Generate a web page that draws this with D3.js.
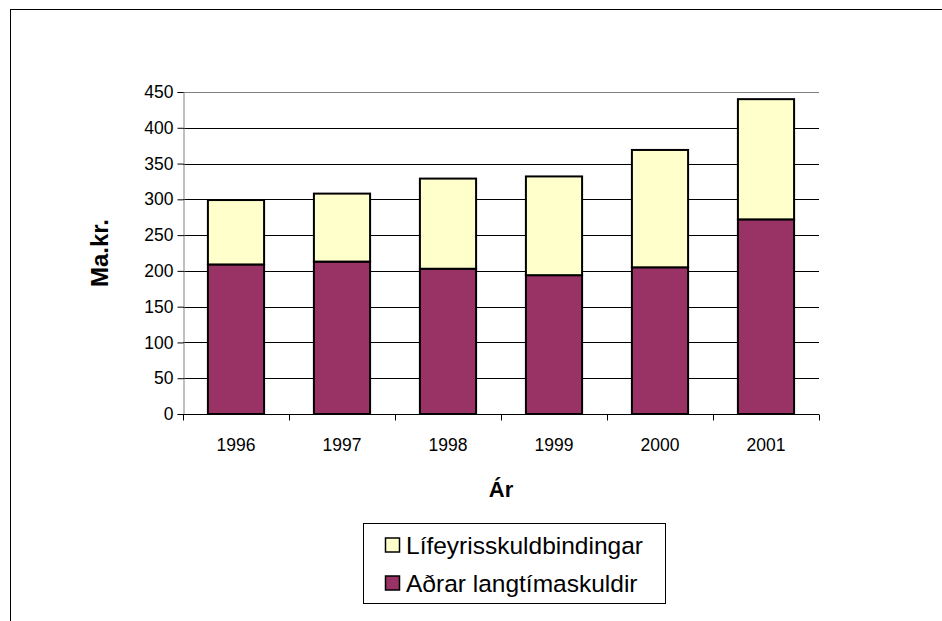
<!DOCTYPE html>
<html>
<head>
<meta charset="utf-8">
<script src="https://cdn.jsdelivr.net/npm/d3@7"></script>
<style>
  body { margin: 0; background: #fff; }
  svg { display: block; font-family: "Liberation Sans", Arial, sans-serif; }
</style>
</head>
<body>
<div id="chart"></div>
<script>
// Data (Ma.kr.)
const years = ["1996", "1997", "1998", "1999", "2000", "2001"];
const adrar = [209, 213, 203, 194, 205, 272];       // Aðrar langtímaskuldir
const lifeyris = [90, 95, 126, 138, 164, 168];      // Lífeyrisskuldbindingar
const yTicks = [0, 50, 100, 150, 200, 250, 300, 350, 400, 450];
const seriesNames = ["Aðrar langtímaskuldir", "Lífeyrisskuldbindingar"];
const seriesColors = ["#993366", "#FFFFCC"];

const width = 942, height = 621;
const margin = {top: 92, right: 123, bottom: 207, left: 183};

const svg = d3.select("#chart").append("svg")
    .attr("width", width)
    .attr("height", height);

// outer chart frame (runs off the right and bottom edges)
svg.append("rect")
    .attr("x", 10.5).attr("y", 9.5)
    .attr("width", 960).attr("height", 640)
    .attr("fill", "none").attr("stroke", "#000").attr("stroke-width", 1);

const x = d3.scaleBand()
    .domain(years)
    .range([margin.left, width - margin.right])
    .paddingInner(0.47)
    .paddingOuter(0.235);

const xAxisScale = d3.scaleBand().domain(years).range([margin.left, width - margin.right]);

const y = d3.scaleLinear()
    .domain([0, 450])
    .range([height - margin.bottom, margin.top]);

// gridlines
svg.append("g")
    .selectAll("line")
    .data(yTicks.slice(1))
    .join("line")
    .attr("x1", margin.left).attr("x2", width - margin.right)
    .attr("y1", d => Math.round(y(d)) + 0.5).attr("y2", d => Math.round(y(d)) + 0.5)
    .attr("stroke", d => d === 450 ? "#808080" : "#000")
    .attr("stroke-width", 1);

// stacked bars
const rows = years.map((yr, i) => ({year: yr, adrar: adrar[i], lifeyris: lifeyris[i]}));
const stack = d3.stack().keys(["adrar", "lifeyris"]);
const layers = stack(rows);

svg.append("g")
    .selectAll("g")
    .data(layers)
    .join("g")
    .attr("fill", (d, i) => seriesColors[i])
    .selectAll("rect")
    .data(d => d)
    .join("rect")
    .attr("x", d => x(d.data.year))
    .attr("y", d => y(d[1]))
    .attr("width", x.bandwidth())
    .attr("height", d => y(d[0]) - y(d[1]))
    .attr("stroke", "#000")
    .attr("stroke-width", 2);

// y axis
const yAxis = svg.append("g")
    .attr("transform", `translate(${margin.left + 0.5},0)`)
    .call(d3.axisLeft(y).tickValues(yTicks).tickSize(6).tickPadding(4));
yAxis.select(".domain").attr("stroke", "#808080");
yAxis.selectAll(".tick line").attr("stroke", "#000");
yAxis.selectAll("text").attr("font-size", 17.5).attr("fill", "#000")
    .attr("font-family", "Liberation Sans, Arial, sans-serif");

// x axis, ticks between categories
const xAxis = svg.append("g")
    .attr("transform", `translate(0,${Math.round(y(0)) + 0.5})`);
xAxis.append("line")
    .attr("x1", margin.left).attr("x2", width - margin.right)
    .attr("stroke", "#000");
xAxis.selectAll(".sep")
    .data(years.concat(["end"]))
    .join("line")
    .attr("x1", (d, i) => margin.left + i * xAxisScale.step() + 0.5)
    .attr("x2", (d, i) => margin.left + i * xAxisScale.step() + 0.5)
    .attr("y1", 0).attr("y2", 6)
    .attr("stroke", "#000");
xAxis.selectAll("text")
    .data(years)
    .join("text")
    .attr("x", d => xAxisScale(d) + xAxisScale.bandwidth() / 2)
    .attr("y", 36)
    .attr("text-anchor", "middle")
    .attr("font-size", 17.5)
    .text(d => d);

// axis titles
svg.append("text")
    .attr("transform", `translate(108,${(y(0) + y(450)) / 2}) rotate(-90)`)
    .attr("text-anchor", "middle")
    .attr("font-size", 24)
    .attr("font-weight", "bold")
    .text("Ma.kr.");

svg.append("text")
    .attr("x", (margin.left + width - margin.right) / 2)
    .attr("y", 497)
    .attr("text-anchor", "middle")
    .attr("font-size", 22)
    .attr("font-weight", "bold")
    .text("Ár");

// legend
const legend = svg.append("g");
legend.append("rect")
    .attr("x", 363.5).attr("y", 523.5)
    .attr("width", 302).attr("height", 80)
    .attr("fill", "#fff").attr("stroke", "#000");

const legendItems = [1, 0]; // Lífeyris first, then Aðrar
legend.selectAll(".item")
    .data(legendItems)
    .join("g")
    .attr("class", "item")
    .attr("transform", (d, i) => `translate(385,${545 + i * 38})`)
    .each(function(d) {
        const g = d3.select(this);
        g.append("rect")
            .attr("x", 0.5).attr("y", -7)
            .attr("width", 14).attr("height", 14)
            .attr("fill", seriesColors[d])
            .attr("stroke", "#000").attr("stroke-width", 1.5);
        g.append("text")
            .attr("x", 21).attr("y", 8.5)
            .attr("font-size", 24.5)
            .text(seriesNames[d]);
    });
</script>
</body>
</html>
